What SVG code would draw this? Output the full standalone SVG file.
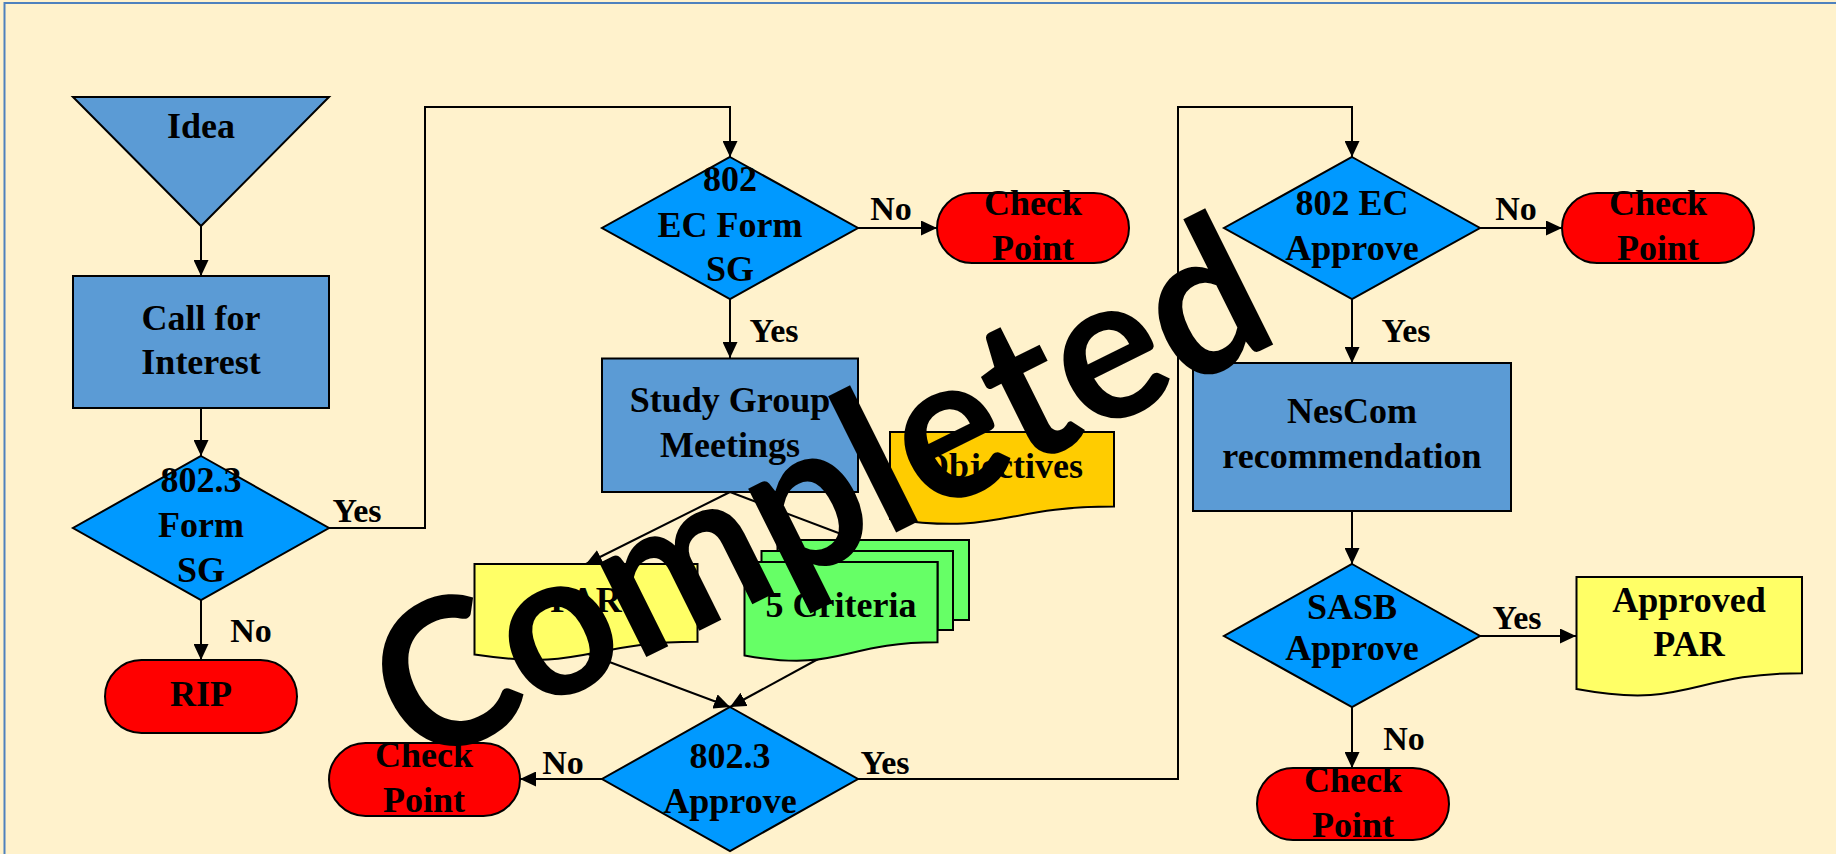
<svg xmlns="http://www.w3.org/2000/svg" width="1836" height="854" viewBox="0 0 1836 854">
<style>
  .t { font-family: "Liberation Serif", "Times New Roman", serif; font-weight: bold; font-size: 36px; text-anchor: middle; fill: #000; }
  .lbl { font-family: "Liberation Serif", "Times New Roman", serif; font-weight: bold; font-size: 34px; text-anchor: middle; fill: #000; }
  .sh { stroke: #000; stroke-width: 2; }
  .rectb { fill: #5B9BD5; }
  .dia { fill: #0099FF; }
  .pill { fill: #FF0000; }
  .docy { fill: #FFFF66; }
  .doco { fill: #FFCC00; }
  .docg { fill: #66FF66; }
  .conn { fill: none; stroke: #000; stroke-width: 2; }
  .wm { font-family: Lato, "Open Sans", sans-serif; font-weight: bold; font-size: 205px; text-anchor: middle; fill: #000; }
</style>
<defs>
  <marker id="arr" markerUnits="userSpaceOnUse" markerWidth="16" markerHeight="15" refX="16" refY="7.5" orient="auto">
    <path d="M0,0 L16,7.5 L0,15 Z" fill="#000"/>
  </marker>
</defs>
<rect x="0" y="0" width="1836" height="854" fill="#FFF2CC"/>
<path d="M4.5,854 V3 H1836" fill="none" stroke="#4F81BD" stroke-width="2"/>

<g id="connectors">
  <path class="conn" d="M201,226 V276" marker-end="url(#arr)"/>
  <path class="conn" d="M201,408 V456" marker-end="url(#arr)"/>
  <path class="conn" d="M329,528 H425 V107 H730 V157" marker-end="url(#arr)"/>
  <path class="conn" d="M201,600 V660" marker-end="url(#arr)"/>
  <path class="conn" d="M858,228 H937" marker-end="url(#arr)"/>
  <path class="conn" d="M730,299 V358" marker-end="url(#arr)"/>
  <path class="conn" d="M730,492 L586,564" marker-end="url(#arr)"/>
  <path class="conn" d="M730,492 L857,540" marker-end="url(#arr)"/>
  <path class="conn" d="M588,654 L730,707" marker-end="url(#arr)"/>
  <path class="conn" d="M820,658 L730,707" marker-end="url(#arr)"/>
  <path class="conn" d="M602,779 H520" marker-end="url(#arr)"/>
  <path class="conn" d="M858,779 H1178 V107 H1352 V157" marker-end="url(#arr)"/>
  <path class="conn" d="M1480,228 H1562" marker-end="url(#arr)"/>
  <path class="conn" d="M1352,299 V363" marker-end="url(#arr)"/>
  <path class="conn" d="M1352,511 V564" marker-end="url(#arr)"/>
  <path class="conn" d="M1480,636 H1576" marker-end="url(#arr)"/>
  <path class="conn" d="M1352,707 V768" marker-end="url(#arr)"/>
  <text class="lbl" x="357" y="522">Yes</text>
  <text class="lbl" x="251" y="642">No</text>
  <text class="lbl" x="891" y="220">No</text>
  <text class="lbl" x="774" y="342">Yes</text>
  <text class="lbl" x="563" y="774">No</text>
  <text class="lbl" x="885" y="774">Yes</text>
  <text class="lbl" x="1516" y="220">No</text>
  <text class="lbl" x="1406" y="342">Yes</text>
  <text class="lbl" x="1517" y="629">Yes</text>
  <text class="lbl" x="1404" y="750">No</text>
</g>

<g id="idea">
  <polygon class="sh rectb" points="73,97 329,97 201,226"/>
  <text class="t" x="201" y="138">Idea</text>
</g>
<g id="call-for-interest">
  <rect class="sh rectb" x="73" y="276" width="256" height="132"/>
  <text class="t" x="201" y="330">Call for</text>
  <text class="t" x="201" y="374">Interest</text>
</g>
<g id="form-sg-8023">
  <polygon class="sh dia" points="201,456 329,528 201,600 73,528"/>
  <text class="t" x="201" y="492">802.3</text>
  <text class="t" x="201" y="537">Form</text>
  <text class="t" x="201" y="582">SG</text>
</g>
<g id="rip">
  <rect class="sh pill" x="105" y="660" width="192" height="73" rx="36.5"/>
  <text class="t" x="201" y="706">RIP</text>
</g>
<g id="ec-form-sg">
  <polygon class="sh dia" points="730,157 858,228 730,299 602,228"/>
  <text class="t" x="730" y="191">802</text>
  <text class="t" x="730" y="237">EC Form</text>
  <text class="t" x="730" y="281">SG</text>
</g>
<g id="checkpoint-1">
  <rect class="sh pill" x="937" y="193" width="192" height="70" rx="35"/>
  <text class="t" x="1033" y="215">Check</text>
  <text class="t" x="1033" y="260">Point</text>
</g>
<g id="study-group">
  <rect class="sh rectb" x="602" y="358.5" width="256" height="133.5"/>
  <text class="t" x="730" y="412">Study Group</text>
  <text class="t" x="730" y="457">Meetings</text>
</g>
<g id="objectives">
  <path class="sh doco" d="M890,432 H1114 V506.6 C1002,506.6 1002,535 890,518.9 Z"/>
  <text class="t" x="1002" y="478">Objectives</text>
</g>
<g id="par">
  <path class="sh docy" d="M474.5,564 H697.5 V641.8 C586,641.8 586,671.4 474.5,654.6 Z"/>
  <text class="t" x="586" y="612">PAR</text>
</g>
<g id="five-criteria">
  <path class="sh docg" d="M777.5,540 H969 V620 H953 V551 H777.5 Z"/>
  <path class="sh docg" d="M761.5,551 H953 V630 H937.5 V562 H761.5 Z"/>
  <path class="sh docg" d="M744.5,562 H937.5 V642.2 C841,642.2 841,672.7 744.5,655.4 Z"/>
  <text class="t" x="841" y="617">5 Criteria</text>
</g>
<g id="approve-8023">
  <polygon class="sh dia" points="730,707 858,779 730,851 602,779"/>
  <text class="t" x="730" y="768">802.3</text>
  <text class="t" x="730" y="813">Approve</text>
</g>
<g id="checkpoint-2">
  <rect class="sh pill" x="329" y="743" width="191" height="73" rx="36.5"/>
  <text class="t" x="424" y="767">Check</text>
  <text class="t" x="424" y="812">Point</text>
</g>
<g id="ec-approve">
  <polygon class="sh dia" points="1352,157 1480,228 1352,299 1224,228"/>
  <text class="t" x="1352" y="215">802 EC</text>
  <text class="t" x="1352" y="260">Approve</text>
</g>
<g id="checkpoint-3">
  <rect class="sh pill" x="1562" y="193" width="192" height="70" rx="35"/>
  <text class="t" x="1658" y="215">Check</text>
  <text class="t" x="1658" y="260">Point</text>
</g>
<g id="nescom">
  <rect class="sh rectb" x="1193" y="363" width="318" height="148"/>
  <text class="t" x="1352" y="423">NesCom</text>
  <text class="t" x="1352" y="468">recommendation</text>
</g>
<g id="sasb">
  <polygon class="sh dia" points="1352,564 1480,636 1352,707 1224,636"/>
  <text class="t" x="1352" y="619">SASB</text>
  <text class="t" x="1352" y="660">Approve</text>
</g>
<g id="approved-par">
  <path class="sh docy" d="M1576.5,577 H1802 V673.2 C1689.25,673.2 1689.25,709.8 1576.5,689.1 Z"/>
  <text class="t" x="1689" y="612">Approved</text>
  <text class="t" x="1689" y="656">PAR</text>
</g>
<g id="checkpoint-4">
  <rect class="sh pill" x="1257" y="768" width="192" height="72" rx="36"/>
  <text class="t" x="1353" y="792">Check</text>
  <text class="t" x="1353" y="837">Point</text>
</g>

<g id="watermark">
  <text class="wm" transform="translate(851,555) rotate(-26.5)" textLength="968" lengthAdjust="spacingAndGlyphs">Completed</text>
</g>
</svg>
